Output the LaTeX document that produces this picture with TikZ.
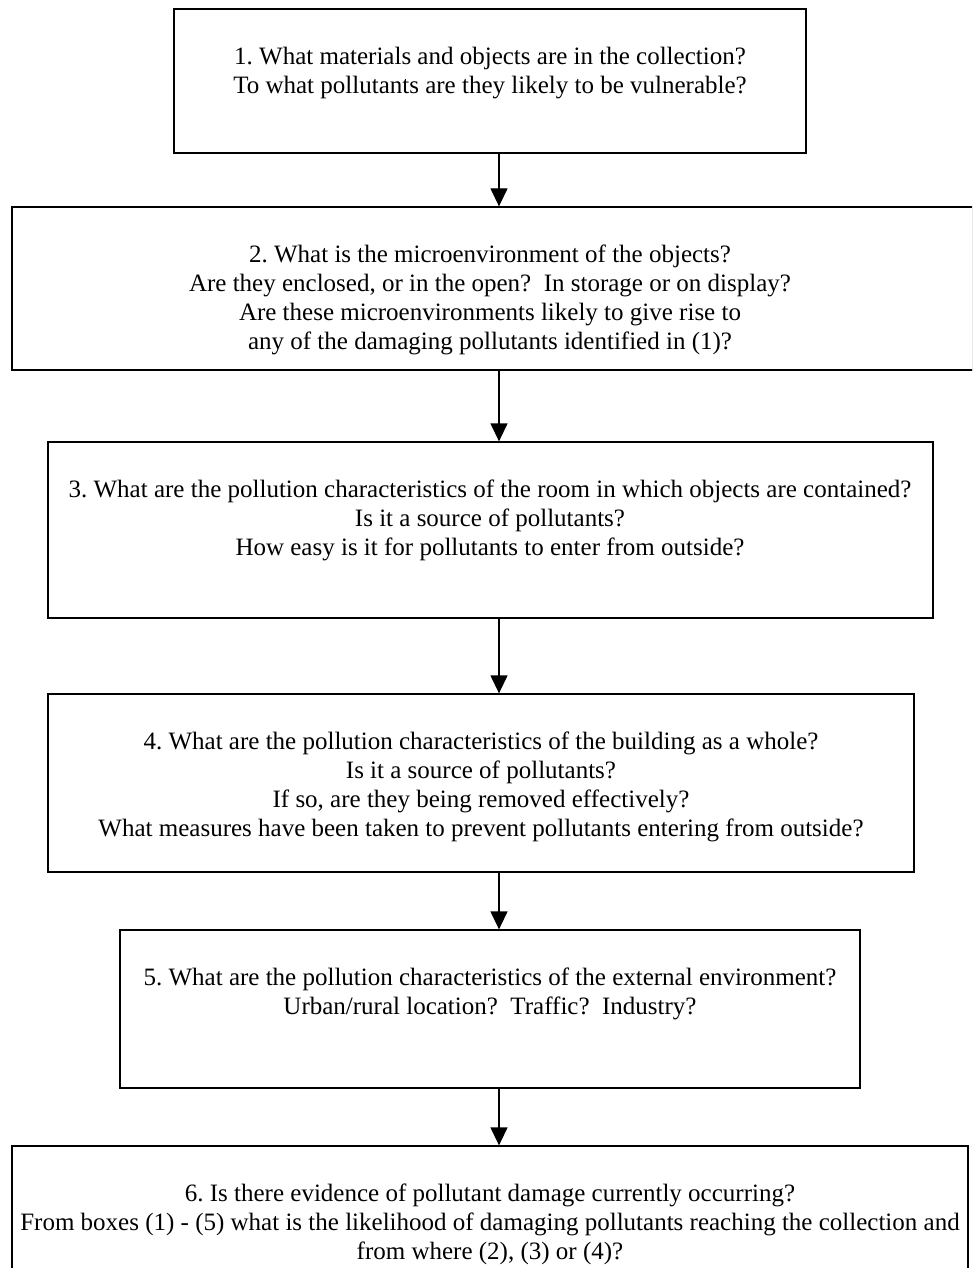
\documentclass[tikz,border=0pt]{standalone}
\usepackage{fontspec}
\setmainfont{Liberation Serif}
\usetikzlibrary{arrows.meta,shadows}
\newcommand{\Ln}[1]{\strut#1}
\frenchspacing
\begin{document}
\begin{tikzpicture}[x=1pt,y=-1pt,
  box/.style={draw=black, line width=1.3pt, fill=white, inner sep=0pt, rectangle,
    drop shadow={shadow xshift=1.2pt, shadow yshift=-1.2pt, opacity=1, fill=black!80}},
  txt/.style={align=center, inner sep=0pt, anchor=north, font=\frenchspacing\fontsize{25pt}{29pt}\selectfont},
  arr/.style={line width=1.3pt, -{Triangle[length=18pt,width=17pt]}}]
\clip (0,0) rectangle (972,1268);
\fill[white] (0,0) rectangle (972,1268);
\coordinate (ax) at (499,0);
% boxes
\node[box, minimum width=632pt, minimum height=144pt] (b1) at (490,81) {};
\node[box, minimum width=963pt, minimum height=163pt] (b2) at (493.5,288.5) {};
\node[box, minimum width=885pt, minimum height=176pt] (b3) at (490.5,530) {};
\node[box, minimum width=866pt, minimum height=178pt] (b4) at (481,783) {};
\node[box, minimum width=740pt, minimum height=158pt] (b5) at (490,1009) {};
\node[box, minimum width=956pt, minimum height=129pt] (b6) at (490,1210.5) {};
% texts
\node[txt] (t1) at (490,44) {\Ln{1. What materials and objects are in the collection?}\\
\Ln{To what pollutants are they likely to be vulnerable?}};
\node[txt] (t2) at (490,242) {\Ln{2. What is the microenvironment of the objects?}\\
\Ln{Are they enclosed, or in the open?\ \ In storage or on display?}\\
\Ln{Are these microenvironments likely to give rise to}\\
\Ln{any of the damaging pollutants identified in (1)?}};
\node[txt] (t3) at (490,477) {\Ln{3. What are the pollution characteristics of the room in which objects are contained?}\\
\Ln{Is it a source of pollutants?}\\
\Ln{How easy is it for pollutants to enter from outside?}};
\node[txt] (t4) at (481,729) {\Ln{4. What are the pollution characteristics of the building as a whole?}\\
\Ln{Is it a source of pollutants?}\\
\Ln{If so, are they being removed effectively?}\\
\Ln{What measures have been taken to prevent pollutants entering from outside?}};
\node[txt] (t5) at (490,965) {\Ln{5. What are the pollution characteristics of the external environment?}\\
\Ln{Urban/rural location?\ \ Traffic?\ \ Industry?}};
\node[txt] (t6) at (490,1181) {\Ln{6. Is there evidence of pollutant damage currently occurring?}\\
\Ln{From boxes (1) - (5) what is the likelihood of damaging pollutants reaching the collection and}\\
\Ln{from where (2), (3) or (4)?}};
% arrows
\draw[arr] (b1.south -| ax) -- (b2.north -| ax);
\draw[arr] (b2.south -| ax) -- (b3.north -| ax);
\draw[arr] (b3.south -| ax) -- (b4.north -| ax);
\draw[arr] (b4.south -| ax) -- (b5.north -| ax);
\draw[arr] (b5.south -| ax) -- (b6.north -| ax);
\end{tikzpicture}
\end{document}
